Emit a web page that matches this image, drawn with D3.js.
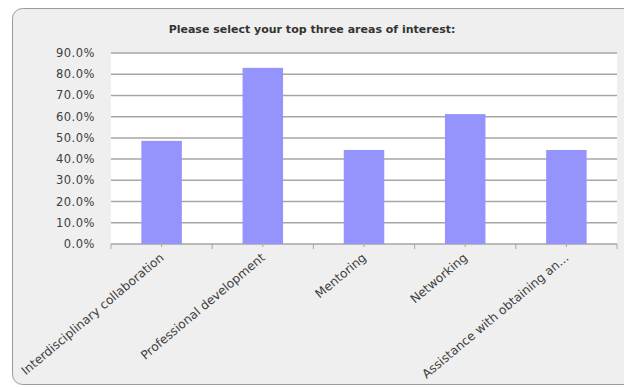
<!DOCTYPE html>
<html>
<head>
<meta charset="utf-8">
<style>
  body { margin:0; background:#fff; }
  text { font-family: "DejaVu Sans", sans-serif; fill:#404040; }
</style>
</head>
<body>
<svg id="chart" width="624" height="387"></svg>
<script src="https://d3js.org/d3.v7.min.js"></script>
<script>
var categories = ["Interdisciplinary collaboration", "Professional development", "Mentoring", "Networking", "Assistance with obtaining an..."];
var values = [0.486, 0.830, 0.443, 0.612, 0.443];
var yTicks = [0, 0.1, 0.2, 0.3, 0.4, 0.5, 0.6, 0.7, 0.8, 0.9];
var title = "Please select your top three areas of interest:";

var svg = d3.select("#chart");
var margin = {left: 111, right: 7, top: 53, bottom: 143};
var w = 624 - margin.left - margin.right;
var h = 387 - margin.top - margin.bottom;

// outer panel
svg.append("rect")
  .attr("x", 12.5).attr("y", 8.5)
  .attr("width", 640).attr("height", 376)
  .attr("rx", 10)
  .attr("fill", "#efefef")
  .attr("stroke", "#9a9a9a");

svg.append("text")
  .attr("x", 312).attr("y", 33)
  .attr("text-anchor", "middle")
  .style("font-size", "11px")
  .style("font-weight", "bold")
  .style("fill", "#333")
  .text(title);

var g = svg.append("g").attr("transform", "translate(" + margin.left + "," + margin.top + ")");

var x = d3.scaleBand().domain(categories).range([0, w]).paddingInner(0.6).paddingOuter(0.3);
var y = d3.scaleLinear().domain([0, 0.9]).range([h, 0]);

g.append("rect").attr("width", w).attr("height", h).attr("fill", "#fff");

g.selectAll(".grid").data(yTicks).enter().append("line")
  .attr("x1", 0).attr("x2", w)
  .attr("y1", function(d) { return y(d); })
  .attr("y2", function(d) { return y(d); })
  .attr("stroke", "#a6a6a6")
  .attr("stroke-width", 1.5);

g.selectAll(".ylab").data(yTicks).enter().append("text")
  .attr("x", -16)
  .attr("y", function(d) { return y(d) + 4; })
  .attr("text-anchor", "end")
  .style("font-size", "11.5px")
  .style("letter-spacing", "0.5px")
  .text(function(d) { return d3.format(".1%")(d); });

g.selectAll(".bar").data(values).enter().append("rect")
  .attr("x", function(d, i) { return x(categories[i]); })
  .attr("y", function(d) { return y(d); })
  .attr("width", x.bandwidth())
  .attr("height", function(d) { return h - y(d); })
  .attr("fill", "#9494fc");

// boundary ticks and small centre marks
var bounds = d3.range(categories.length + 1).map(function(i) { return i * w / categories.length; });
g.selectAll(".tick").data(bounds).enter().append("line")
  .attr("x1", function(d) { return d; }).attr("x2", function(d) { return d; })
  .attr("y1", h).attr("y2", h + 5)
  .attr("stroke", "#a6a6a6");
g.selectAll(".ctick").data(categories).enter().append("line")
  .attr("x1", function(d) { return x(d) + x.bandwidth() / 2; })
  .attr("x2", function(d) { return x(d) + x.bandwidth() / 2; })
  .attr("y1", h - 3).attr("y2", h + 3)
  .attr("stroke", "#a6a6a6");

g.selectAll(".xlab").data(categories).enter().append("text")
  .attr("text-anchor", "end")
  .attr("transform", function(d) {
    var cx = x(d) + x.bandwidth() / 2 + 3;
    return "translate(" + cx + "," + (h + 15) + ") rotate(-40)";
  })
  .style("font-size", "12.2px")
  .text(function(d) { return d; });
</script>
</body>
</html>
